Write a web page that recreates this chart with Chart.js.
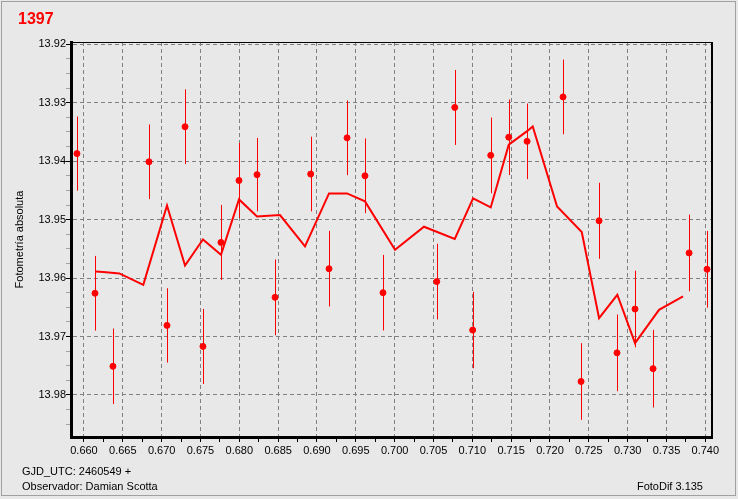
<!DOCTYPE html>
<html>
<head>
<meta charset="utf-8">
<script src="https://cdn.jsdelivr.net/npm/chart.js@4.4.0/dist/chart.umd.min.js"></script>
<style>
  html, body { margin: 0; padding: 0; background: #e8e8e9; }
  #wrap {
    position: relative; width: 738px; height: 499px; overflow: hidden;
    font-family: "Liberation Sans", Arial, sans-serif; color: #000;
  }
  #frame {
    position: absolute; left: 1px; top: 1px; width: 733px; height: 493px;
    border: 1px solid #a0a0a0;
  }
  #lc { position: absolute; left: 0; top: 0; }
  .txt { position: absolute; font-size: 11px; line-height: 13px; white-space: nowrap; }
  #star { position: absolute; left: 18px; top: 11px; font-size: 16px; line-height: 16px; font-weight: bold; color: #ff0000; }
</style>
</head>
<body>
<div id="wrap">
  <div id="frame"></div>
  <canvas id="lc" width="738" height="499"></canvas>
  <div id="star">1397</div>
  <div class="txt" style="left:22px; top:465px;">GJD_UTC: 2460549 +</div>
  <div class="txt" style="left:22px; top:480px;">Observador: Damian Scotta</div>
  <div class="txt" style="right:35px; top:480px;">FotoDif 3.135</div>
</div>
<script>
// Light curve of star 1397: single observations with error bars + running mean.

// --- Observations (GJD - 2460549) ---
const obsJd = [
  0.65910, 0.66142, 0.66373, 0.66837, 0.67069, 0.67301, 0.67532, 0.67764,
  0.67996, 0.68228, 0.68460, 0.68919, 0.69155, 0.69387, 0.69618, 0.69850,
  0.70542, 0.70774, 0.71005, 0.71237, 0.71469, 0.71705, 0.72168, 0.72400,
  0.72632, 0.72863, 0.73095, 0.73327, 0.73791, 0.74022,
];
const obsMag = [
  13.9387, 13.9626, 13.9751, 13.9401, 13.9681, 13.9341, 13.9717, 13.9539,
  13.9433, 13.9423, 13.9633, 13.9422, 13.9584, 13.9360, 13.9425, 13.9625,
  13.9606, 13.9308, 13.9689, 13.9390, 13.9359, 13.9366, 13.9290, 13.9777,
  13.9502, 13.9728, 13.9653, 13.9755, 13.9557, 13.9585,
];
const obsErr = [
  0.00634, 0.00639, 0.00645, 0.00639, 0.00636, 0.00639, 0.00642, 0.00642,
  0.00642, 0.00628, 0.00648, 0.00639, 0.00647, 0.00639, 0.00639, 0.00647,
  0.00647, 0.00642, 0.00654, 0.00647, 0.00647, 0.00647, 0.00639, 0.00656,
  0.00651, 0.00656, 0.00656, 0.00664, 0.00656, 0.00656,
];

// --- Running mean (red line) ---
const avgJd = [
  0.66151, 0.66249, 0.66455, 0.66764, 0.67069, 0.67301, 0.67532, 0.67764,
  0.67996, 0.68228, 0.68524, 0.68846, 0.69155, 0.69387, 0.69618, 0.70005,
  0.70378, 0.70774, 0.71010, 0.71237, 0.71469, 0.71701, 0.71778, 0.72091,
  0.72409, 0.72632, 0.72867, 0.73095, 0.73404, 0.73713,
];
const avgMag = [
  13.95887, 13.95897, 13.95921, 13.96115, 13.94757, 13.95784, 13.95339, 13.95601,
  13.94654, 13.94945, 13.94921, 13.95459, 13.94551, 13.94551, 13.94688, 13.95515,
  13.95122, 13.95332, 13.94637, 13.94791, 13.93717, 13.93490, 13.93404, 13.94774,
  13.95212, 13.96685, 13.96286, 13.97113, 13.96543, 13.96315,
];

// --- Axis labels ---
const xTickLabels = [
  "0.660", "0.665", "0.670", "0.675", "0.680", "0.685", "0.690", "0.695", "0.700",
  "0.705", "0.710", "0.715", "0.720", "0.725", "0.730", "0.735", "0.740",
];
const yTickLabels = ["13.92", "13.93", "13.94", "13.95", "13.96", "13.97", "13.98"];

const X_MIN = 0.65833, X_MAX = 0.74086;
const Y_MIN = 13.9196, Y_MAX = 13.9872;
const RED = "#ff0000";
const GRID = "#808080";

Chart.defaults.font.family = '"Liberation Sans", Arial, sans-serif';
Chart.defaults.font.size = 11;
Chart.defaults.color = "#000";

// major labels + evenly spaced minor ticks inside [min, max]
function withMinor(labels, parts, min, max) {
  const majors = labels.map(Number);
  const step = (majors[1] - majors[0]) / parts;
  const out = [];
  for (let v = majors[0]; v >= min - 1e-9; v -= step) out.unshift(v);
  for (let v = majors[0] + step; v <= max + 1e-9; v += step) out.push(v);
  return out.map((v) => +v.toFixed(6));
}
function labelFor(labels, value) {
  const hit = labels.find((l) => Math.abs(Number(l) - value) < 1e-7);
  return hit === undefined ? "" : hit;
}
const isMajor = (labels) => (ctx) => ctx.tick && labelFor(labels, ctx.tick.value) !== "";

const errorBars = {
  id: "errorBars",
  beforeDatasetsDraw(chart) {
    const { ctx, scales: { x, y } } = chart;
    ctx.save();
    ctx.strokeStyle = RED;
    ctx.lineWidth = 1;
    obsJd.forEach((jd, i) => {
      const px = Math.round(x.getPixelForValue(jd)) + 0.5;
      ctx.beginPath();
      ctx.moveTo(px, y.getPixelForValue(obsMag[i] - obsErr[i]));
      ctx.lineTo(px, y.getPixelForValue(obsMag[i] + obsErr[i]));
      ctx.stroke();
    });
    ctx.restore();
  },
};

const plotFrame = {
  id: "plotFrame",
  beforeDatasetsDraw(chart) {
    const { ctx, chartArea: a } = chart;
    ctx.save();
    ctx.strokeStyle = "#000";
    ctx.lineWidth = 1;
    ctx.beginPath();
    ctx.moveTo(a.left, a.top + 0.5);
    ctx.lineTo(a.right, a.top + 0.5);
    ctx.stroke();
    ctx.lineWidth = 2;
    ctx.beginPath();
    ctx.moveTo(a.right, a.top);
    ctx.lineTo(a.right, a.bottom);
    ctx.stroke();
    ctx.restore();
  },
};

new Chart(document.getElementById("lc"), {
  type: "scatter",
  data: {
    datasets: [
      {
        type: "line",
        data: avgJd.map((x, i) => ({ x, y: avgMag[i] })),
        borderColor: RED,
        borderWidth: 2,
        pointRadius: 0,
        tension: 0,
        fill: false,
      },
      {
        data: obsJd.map((x, i) => ({ x, y: obsMag[i] })),
        backgroundColor: RED,
        borderColor: RED,
        borderWidth: 1,
        pointRadius: 3,
        pointStyle: "circle",
      },
    ],
  },
  options: {
    responsive: false,
    animation: false,
    layout: { padding: { left: 9, top: 42, right: 26, bottom: 0 } },
    plugins: { legend: { display: false }, tooltip: { enabled: false } },
    scales: {
      x: {
        type: "linear",
        min: X_MIN,
        max: X_MAX,
        afterFit: (s) => { s.height = 62; },
        afterBuildTicks: (s) => {
          s.ticks = withMinor(xTickLabels, 2, X_MIN, X_MAX).map((value) => ({ value }));
        },
        ticks: {
          autoSkip: false,
          maxRotation: 0,
          padding: 2,
          callback: (v) => labelFor(xTickLabels, v),
        },
        grid: {
          color: (ctx) => (isMajor(xTickLabels)(ctx) ? GRID : "transparent"),
          tickColor: "#000",
          tickLength: 5,
        },
        border: { color: "#000", width: 3, dash: [4, 3] },
      },
      y: {
        type: "linear",
        reverse: true,
        min: Y_MIN,
        max: Y_MAX,
        afterFit: (s) => { s.width = 62; },
        afterBuildTicks: (s) => {
          s.ticks = withMinor(yTickLabels, 4, Y_MIN, Y_MAX).map((value) => ({ value }));
        },
        ticks: {
          autoSkip: false,
          padding: 0,
          callback: (v) => labelFor(yTickLabels, v),
        },
        grid: {
          color: (ctx) => (isMajor(yTickLabels)(ctx) ? GRID : "transparent"),
          tickColor: (ctx) => (isMajor(yTickLabels)(ctx) ? "#000" : "rgba(0,0,0,0.3)"),
          tickLength: 5,
        },
        border: { color: "#000", width: 3, dash: [4, 3] },
        title: {
          display: true,
          text: "Fotometría absoluta",
          font: { size: 11 },
          padding: { top: 4, bottom: 0 },
        },
      },
    },
  },
  plugins: [errorBars, plotFrame],
});
</script>
</body>
</html>
